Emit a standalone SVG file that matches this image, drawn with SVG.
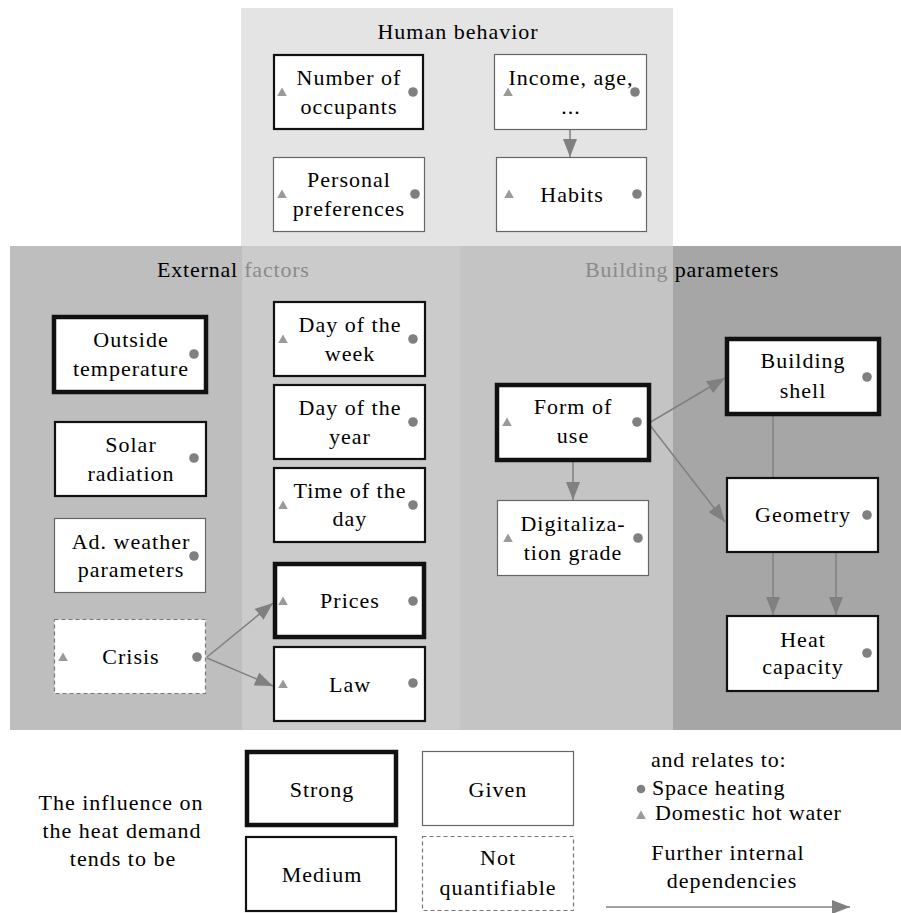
<svg xmlns="http://www.w3.org/2000/svg" width="901" height="913" viewBox="0 0 901 913">
<style>
.strong{fill:#fff;stroke:#111;stroke-width:4.5}
.medium{fill:#fff;stroke:#111;stroke-width:2.2}
.given{fill:#fff;stroke:#666;stroke-width:1.2}
.nq{fill:#fff;stroke:#777;stroke-width:1.2;stroke-dasharray:4 3}
.t{font-family:'Liberation Serif',serif;font-size:22px;letter-spacing:1px;fill:#000;text-anchor:middle}
.ts{font-family:'Liberation Serif',serif;font-size:22px;letter-spacing:0.8px;fill:#000}
.dot{fill:#808080}
.tri{fill:#9a9a9a}
.conn{stroke:#808080;stroke-width:1.5;fill:none;marker-end:url(#ah)}
.plain{stroke:#808080;stroke-width:1.5;fill:none}
</style>
<defs>
<marker id="ah" markerUnits="userSpaceOnUse" markerWidth="18" markerHeight="14" refX="18" refY="7" orient="auto">
<path d="M0,0 L18,7 L0,14 Z" fill="#808080"/>
</marker>
<path id="tr" d="M0,-4.5 L4.8,4 L-4.8,4 Z" class="tri"/>
</defs>
<g id="panels">
<rect x="241" y="8" width="432" height="238" fill="#e4e4e4"/>
<rect x="10" y="246" width="232" height="484" fill="#bebebe"/>
<rect x="242" y="246" width="218" height="484" fill="#cbcbcb"/>
<rect x="460" y="246" width="213" height="484" fill="#c4c4c4"/>
<rect x="673" y="246" width="228" height="484" fill="#a6a6a6"/>
<text class="t" x="458" y="39">Human behavior</text>
<text class="ts" x="157" y="277">External <tspan fill="#8a8a8a">factors</tspan></text>
<text class="ts" x="585" y="277"><tspan fill="#8a8a8a">Building</tspan> parameters</text>
</g>

<g id="connectors">
<line class="conn" x1="570" y1="130" x2="570" y2="157"/>
<line class="conn" x1="207" y1="657" x2="273" y2="603"/>
<line class="conn" x1="207" y1="658" x2="273" y2="686"/>
<line class="conn" x1="573" y1="462" x2="573" y2="500"/>
<line class="conn" x1="649" y1="423" x2="725" y2="378"/>
<line class="conn" x1="649" y1="424" x2="725" y2="522"/>
<line class="plain" x1="773" y1="416" x2="773" y2="477"/>
<line class="conn" x1="773" y1="553" x2="773" y2="615"/>
<line class="conn" x1="836" y1="553" x2="836" y2="615"/>
</g>

<g id="n-occupants">
<rect class="medium" x="274" y="55" width="149" height="74"/>
<text class="t" x="349" y="85">Number of</text>
<text class="t" x="349" y="114">occupants</text>
<use href="#tr" x="282" y="92"/><circle class="dot" cx="413" cy="92" r="4.8"/>
</g>
<g id="n-income">
<rect class="given" x="494.5" y="54.5" width="152" height="75"/>
<text class="t" x="571" y="85">Income, age,</text>
<text class="t" x="571" y="114">...</text>
<use href="#tr" x="508" y="92"/><circle class="dot" cx="635" cy="92" r="4.8"/>
</g>
<g id="n-personal">
<rect class="given" x="273.5" y="157.5" width="151" height="74"/>
<text class="t" x="349" y="187">Personal</text>
<text class="t" x="349" y="216">preferences</text>
<use href="#tr" x="282" y="194"/><circle class="dot" cx="415" cy="194" r="4.8"/>
</g>
<g id="n-habits">
<rect class="given" x="496.5" y="157.5" width="150" height="74"/>
<text class="t" x="572" y="202">Habits</text>
<use href="#tr" x="509" y="194"/><circle class="dot" cx="637" cy="194" r="4.8"/>
</g>

<g id="n-outside">
<rect class="strong" x="54" y="317" width="152" height="75"/>
<text class="t" x="131" y="347">Outside</text>
<text class="t" x="131" y="376">temperature</text>
<circle class="dot" cx="194" cy="354" r="4.8"/>
</g>
<g id="n-solar">
<rect class="medium" x="55" y="422" width="151" height="74"/>
<text class="t" x="131" y="452">Solar</text>
<text class="t" x="131" y="481">radiation</text>
<circle class="dot" cx="194" cy="458" r="4.8"/>
</g>
<g id="n-adweather">
<rect class="given" x="54.5" y="518.5" width="151" height="74"/>
<text class="t" x="131" y="549">Ad. weather</text>
<text class="t" x="131" y="577">parameters</text>
<circle class="dot" cx="194" cy="556" r="4.8"/>
</g>
<g id="n-crisis">
<rect class="nq" x="54.5" y="619.5" width="151" height="74"/>
<text class="t" x="131" y="664">Crisis</text>
<use href="#tr" x="63" y="657"/><circle class="dot" cx="197" cy="657" r="4.8"/>
</g>
<g id="n-dayweek">
<rect class="medium" x="274" y="302" width="151" height="74"/>
<text class="t" x="350" y="332">Day of the</text>
<text class="t" x="350" y="361">week</text>
<use href="#tr" x="283" y="339"/><circle class="dot" cx="413" cy="339" r="4.8"/>
</g>
<g id="n-dayyear">
<rect class="medium" x="274" y="385" width="151" height="74"/>
<text class="t" x="350" y="415">Day of the</text>
<text class="t" x="350" y="444">year</text>
<circle class="dot" cx="413" cy="422" r="4.8"/>
</g>
<g id="n-timeday">
<rect class="medium" x="274" y="468" width="151" height="74"/>
<text class="t" x="350" y="498">Time of the</text>
<text class="t" x="350" y="526">day</text>
<use href="#tr" x="283" y="505"/><circle class="dot" cx="413" cy="505" r="4.8"/>
</g>
<g id="n-prices">
<rect class="strong" x="275" y="564" width="149" height="73"/>
<text class="t" x="350" y="608">Prices</text>
<use href="#tr" x="283" y="601"/><circle class="dot" cx="413" cy="601" r="4.8"/>
</g>
<g id="n-law">
<rect class="medium" x="274" y="647" width="151" height="74"/>
<text class="t" x="350" y="692">Law</text>
<use href="#tr" x="283" y="684"/><circle class="dot" cx="413" cy="683" r="4.8"/>
</g>

<g id="n-formofuse">
<rect class="strong" x="497" y="385" width="152" height="75"/>
<text class="t" x="573" y="414">Form of</text>
<text class="t" x="573" y="443">use</text>
<use href="#tr" x="507" y="422"/><circle class="dot" cx="637" cy="422" r="4.8"/>
</g>
<g id="n-digital">
<rect class="given" x="497.5" y="500.5" width="151" height="75"/>
<text class="t" x="573" y="531">Digitaliza-</text>
<text class="t" x="573" y="560">tion grade</text>
<use href="#tr" x="508" y="538"/><circle class="dot" cx="638" cy="538" r="4.8"/>
</g>
<g id="n-shell">
<rect class="strong" x="727" y="339" width="152" height="75"/>
<text class="t" x="803" y="368">Building</text>
<text class="t" x="803" y="398">shell</text>
<circle class="dot" cx="867" cy="377" r="4.8"/>
</g>
<g id="n-geometry">
<rect class="medium" x="727" y="478" width="151" height="74"/>
<text class="t" x="803" y="522">Geometry</text>
<circle class="dot" cx="867" cy="515" r="4.8"/>
</g>
<g id="n-heatcap">
<rect class="medium" x="727" y="616" width="151" height="75"/>
<text class="t" x="803" y="647">Heat</text>
<text class="t" x="803" y="674">capacity</text>
<circle class="dot" cx="867" cy="653" r="4.8"/>
</g>

<g id="legend">
<text class="t" x="121" y="810">The influence on</text>
<text class="t" x="122" y="838">the heat demand</text>
<text class="t" x="123" y="866">tends to be</text>
<rect class="strong" x="247" y="752" width="149" height="73"/>
<text class="t" x="322" y="797">Strong</text>
<rect class="given" x="422.5" y="751.5" width="151" height="74"/>
<text class="t" x="498" y="797">Given</text>
<rect class="medium" x="246" y="837" width="150" height="74"/>
<text class="t" x="322" y="882">Medium</text>
<rect class="nq" x="422.5" y="836.5" width="151" height="74"/>
<text class="t" x="498" y="865">Not</text>
<text class="t" x="498" y="895">quantifiable</text>
<text class="ts" x="651" y="767">and relates to:</text>
<circle class="dot" cx="641" cy="789" r="4.3"/>
<text class="ts" x="652" y="795">Space heating</text>
<use href="#tr" x="641" y="815"/>
<text class="ts" x="655" y="820">Domestic hot water</text>
<text class="t" x="728" y="860">Further internal</text>
<text class="t" x="732" y="888">dependencies</text>
<line class="conn" x1="606" y1="907" x2="850" y2="907"/>
</g>
</svg>
